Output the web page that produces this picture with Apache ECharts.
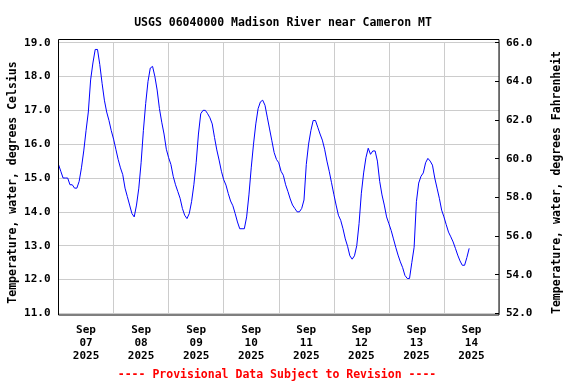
<!DOCTYPE html>
<html>
<head>
<meta charset="utf-8">
<script src="https://cdn.jsdelivr.net/npm/echarts@6/dist/echarts.min.js"></script>
<style>html,body{margin:0;padding:0;background:#fff}#c{width:576px;height:384px}</style>
</head>
<body>
<div id="c"></div>
<script>
// Day labels (category axis, one per day, centred at noon)
const dayLabels = ['Sep\n07\n2025','Sep\n08\n2025','Sep\n09\n2025','Sep\n10\n2025','Sep\n11\n2025','Sep\n12\n2025','Sep\n13\n2025','Sep\n14\n2025'];
// Hours since Sep 07 00:00 -> water temperature (deg C)
const tempC = [
15.4,15.2,15.0,15.0,15.0,14.8,14.8,14.7,14.7,14.9,15.3,15.8,16.4,16.95,17.9,18.4,18.8,18.8,18.35,17.8,17.3,16.95,16.7,16.4,
16.15,15.85,15.55,15.3,15.1,14.7,14.45,14.2,13.95,13.85,14.2,14.7,15.45,16.4,17.2,17.85,18.25,18.3,18.0,17.6,17.05,16.65,16.3,15.85,
15.6,15.4,15.05,14.8,14.6,14.4,14.1,13.9,13.8,13.95,14.3,14.8,15.45,16.3,16.9,17.0,17.0,16.9,16.78,16.6,16.2,15.83,15.53,15.2,
14.95,14.79,14.54,14.32,14.18,13.95,13.7,13.5,13.5,13.5,13.85,14.5,15.3,16.0,16.6,17.05,17.25,17.3,17.15,16.8,16.45,16.1,15.75,15.55,
15.45,15.2,15.08,14.8,14.6,14.38,14.2,14.1,14.0,14.0,14.1,14.35,15.4,16.0,16.4,16.7,16.7,16.5,16.3,16.12,15.85,15.5,15.2,14.86,
14.52,14.2,13.9,13.75,13.5,13.2,12.98,12.7,12.6,12.7,13.0,13.65,14.55,15.15,15.6,15.88,15.7,15.8,15.8,15.5,14.9,14.5,14.2,13.85,
13.65,13.45,13.2,12.95,12.72,12.52,12.35,12.12,12.03,12.03,12.5,12.95,14.3,14.85,15.05,15.15,15.45,15.58,15.5,15.38,15.0,14.7,14.4,14.05,
13.85,13.62,13.4,13.26,13.11,12.92,12.72,12.55,12.42,12.42,12.65,12.92
];
const title = 'USGS 06040000 Madison River near Cameron MT';
const footer = '---- Provisional Data Subject to Revision ----';
const leftName = 'Temperature, water, degrees Celsius';
const rightName = 'Temperature, water, degrees Fahrenheit';

const seriesData = tempC.map((v, i) => [i, v]);
const FONT = 'DejaVu Sans Mono';
const chart = echarts.init(document.getElementById('c'), null, {renderer: 'canvas'});
const G = {left: 58.5, right: 77, top: 42.7, bottom: 70.7, containLabel: false, outerBoundsMode: 'none'};
chart.setOption({
  animation: false,
  backgroundColor: '#fff',
  title: {text: title, left: 278, top: 12, textAlign: 'center',
    textStyle: {fontFamily: FONT, fontSize: 11.5, fontWeight: 'bold', color: '#000'}},
  grid: G,
  xAxis: [
    {type: 'category', data: dayLabels, boundaryGap: true, position: 'bottom',
     axisLine: {show: false}, axisTick: {show: false},
     splitLine: {show: true, lineStyle: {color: '#cccccc', width: 1}},
     axisLabel: {interval: 0, margin: 10, lineHeight: 13, fontFamily: FONT, fontSize: 11, fontWeight: 'bold', color: '#000'}},
    {type: 'value', min: 0, max: 192, show: false}
  ],
  yAxis: [
    {type: 'value', min: 11, max: 19, interval: 1, position: 'left',
     axisLine: {show: false}, axisTick: {show: false},
     splitLine: {show: true, lineStyle: {color: '#cccccc', width: 1}},
     axisLabel: {margin: 8, formatter: v => v.toFixed(1), fontFamily: FONT, fontSize: 11, fontWeight: 'bold', color: '#000'}},
    {type: 'value', min: 52, max: 66, interval: 2, position: 'right',
     axisLine: {show: false},
     axisTick: {show: true, inside: true, length: 4, lineStyle: {color: '#000'}},
     splitLine: {show: false},
     axisLabel: {margin: 7, formatter: v => v.toFixed(1), fontFamily: FONT, fontSize: 11, fontWeight: 'bold', color: '#000'}}
  ],
  graphic: [
    {type: 'rect', shape: {x: 58.5, y: 39.5, width: 440.5, height: 275.5}, z: 100,
     style: {fill: null, stroke: '#000', lineWidth: 1}},
    {type: 'text', x: 13, y: 182.5, rotation: Math.PI / 2,
     style: {text: leftName, fontFamily: FONT, fontSize: 11.5, fontWeight: 'bold', fill: '#000', textAlign: 'center', textVerticalAlign: 'middle'}},
    {type: 'text', x: 557, y: 182.5, rotation: Math.PI / 2,
     style: {text: rightName, fontFamily: FONT, fontSize: 11.5, fontWeight: 'bold', fill: '#000', textAlign: 'center', textVerticalAlign: 'middle'}},
    {type: 'text', x: 277, y: 375,
     style: {text: footer, fontFamily: FONT, fontSize: 11.5, fontWeight: 'bold', fill: '#ff0000', textAlign: 'center', textVerticalAlign: 'middle'}}
  ],
  series: [{
    type: 'line', xAxisIndex: 1, yAxisIndex: 0, data: seriesData,
    showSymbol: false, symbol: 'none',
    lineStyle: {color: '#0000ff', width: 1}
  }]
});
</script>
</body>
</html>
